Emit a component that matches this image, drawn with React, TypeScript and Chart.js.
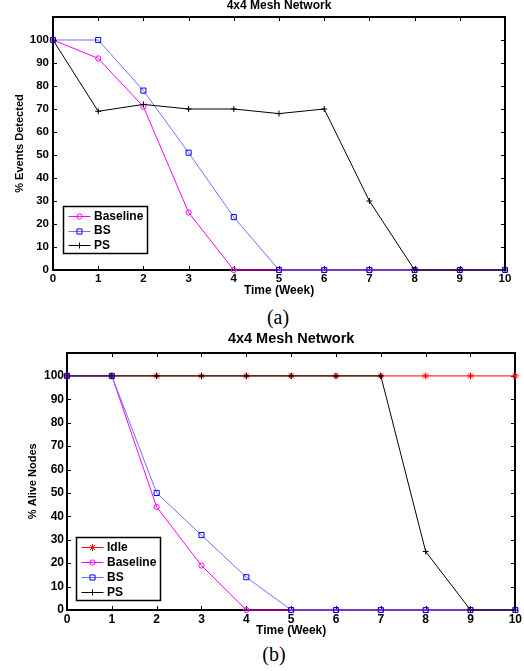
import React, { useEffect, useRef } from 'react';
import { Chart, registerables } from 'chart.js';

Chart.register(...registerables);

// ---- data ----
const weeks = ['0', '1', '2', '3', '4', '5', '6', '7', '8', '9', '10'];
const yTickValues = [0, 10, 20, 30, 40, 50, 60, 70, 80, 90, 100];

const eventsBaseline = [100, 92, 71, 25, 0, 0, 0, 0, 0, 0, 0];
const eventsBS = [100, 100, 78, 51, 23, 0, 0, 0, 0, 0, 0];
const eventsPS = [100, 69, 72, 70, 70, 68, 70, 30, 0, 0, 0];

const aliveIdle = [100, 100, 100, 100, 100, 100, 100, 100, 100, 100, 100];
const aliveBaseline = [100, 100, 44, 19, 0, 0, 0, 0, 0, 0, 0];
const aliveBS = [100, 100, 50, 32, 14, 0, 0, 0, 0, 0, 0];
const alivePS = [100, 100, 100, 100, 100, 100, 100, 100, 25, 0, 0];

const FONT = "'Liberation Sans', Arial, Helvetica, sans-serif";
const SERIF = "'Liberation Serif', 'DejaVu Serif', 'Times New Roman', serif";

type SeriesStyle = { line: string; point: string; pointStyle: string; radius: number };
const STYLE: Record<string, SeriesStyle> = {
  Idle: { line: '#ff0000', point: '#ff0000', pointStyle: 'star', radius: 3.5 },
  Baseline: { line: '#ff00ff', point: '#ff00ff', pointStyle: 'circle', radius: 2.6 },
  BS: { line: '#7070ff', point: '#0000ff', pointStyle: 'rect', radius: 3.6 },
  PS: { line: '#000000', point: '#000000', pointStyle: 'cross', radius: 3 },
};

function ds(label: string, data: number[], order: number) {
  const s = STYLE[label];
  return {
    label,
    data,
    borderColor: s.line,
    borderWidth: 1,
    pointStyle: s.pointStyle,
    pointRadius: s.radius,
    pointBorderColor: s.point,
    pointBackgroundColor: 'rgba(0,0,0,0)',
    pointBorderWidth: 1,
    fill: false,
    tension: 0,
    clip: false,
    order,
  };
}

type Spec = {
  title: string;
  titleSize: number;
  titlePadBottom: number;
  yTitle: string;
  yTitlePad: number;
  leftW: number;
  rightPad: number;
  xScaleH: number;
  xTitlePad: number;
  yTickPad: number;
  xTickPad: number;
  tickSize: number;
  legendDX: number;
  legendDY: number;
  rowH: number;
  canvasH: number;
  axisW: number;
  datasets: any[];
};

function drawMarker(ctx: CanvasRenderingContext2D, style: string, x: number, y: number, r: number, color: string) {
  ctx.save();
  ctx.strokeStyle = color;
  ctx.lineWidth = 1;
  ctx.beginPath();
  if (style === 'circle') {
    ctx.arc(x, y, r, 0, Math.PI * 2);
  } else if (style === 'rect') {
    const s = r * Math.SQRT1_2;
    ctx.rect(x - s, y - s, 2 * s, 2 * s);
  } else if (style === 'cross') {
    ctx.moveTo(x - r, y);
    ctx.lineTo(x + r, y);
    ctx.moveTo(x, y - r);
    ctx.lineTo(x, y + r);
  } else if (style === 'star') {
    ctx.moveTo(x - r, y);
    ctx.lineTo(x + r, y);
    ctx.moveTo(x, y - r);
    ctx.lineTo(x, y + r);
    const d = r * Math.SQRT1_2;
    ctx.moveTo(x - d, y - d);
    ctx.lineTo(x + d, y + d);
    ctx.moveTo(x - d, y + d);
    ctx.lineTo(x + d, y - d);
  }
  ctx.stroke();
  ctx.restore();
}

function matlabPlugin(spec: Spec) {
  return {
    id: 'matlabAxes',
    beforeDatasetsDraw(chart: any) {
      const { ctx, chartArea } = chart;
      const { left, right, top, bottom } = chartArea;
      const xs = chart.scales.x;
      const ys = chart.scales.y;
      ctx.save();
      ctx.strokeStyle = '#000';
      ctx.lineWidth = spec.axisW;
      const L = Math.round(left);
      const R = Math.round(right);
      const T = Math.round(top);
      const B = Math.round(bottom);
      ctx.strokeRect(L, T, R - L, B - T);
      const tl = 4;
      ctx.beginPath();
      ctx.lineWidth = 1;
      weeks.forEach((_, i) => {
        const px = Math.round(xs.getPixelForValue(i)) + 0.5;
        ctx.moveTo(px, B);
        ctx.lineTo(px, B - tl);
        ctx.moveTo(px, T);
        ctx.lineTo(px, T + tl);
      });
      yTickValues.forEach((v) => {
        const py = Math.round(ys.getPixelForValue(v)) + 0.5;
        ctx.moveTo(L, py);
        ctx.lineTo(L + tl, py);
        ctx.moveTo(R, py);
        ctx.lineTo(R - tl, py);
      });
      ctx.stroke();
      ctx.restore();
    },
    afterDatasetsDraw(chart: any) {
      const { ctx, chartArea } = chart;
      const items = chart.data.datasets;
      ctx.save();
      ctx.font = `bold 12px ${FONT}`;
      let maxW = 0;
      items.forEach((d: any) => {
        maxW = Math.max(maxW, ctx.measureText(d.label).width);
      });
      const w = Math.round(31 + maxW + 4);
      const h = Math.round(items.length * spec.rowH + 3);
      const bx = Math.round(chartArea.left + spec.legendDX) + 0.5;
      const by = Math.round(chartArea.bottom - spec.legendDY - h) + 0.5;
      ctx.fillStyle = '#fff';
      ctx.fillRect(bx, by, w, h);
      ctx.strokeStyle = '#000';
      ctx.lineWidth = 1.5;
      ctx.strokeRect(bx, by, w, h);
      items.forEach((d: any, i: number) => {
        const cy = by + 9.5 + i * spec.rowH;
        ctx.beginPath();
        ctx.strokeStyle = d.borderColor;
        ctx.lineWidth = 1;
        ctx.moveTo(bx + 5, Math.round(cy) + 0.5);
        ctx.lineTo(bx + 27, Math.round(cy) + 0.5);
        ctx.stroke();
        drawMarker(ctx, d.pointStyle, bx + 16, Math.round(cy) + 0.5, d.pointRadius, d.pointBorderColor);
        ctx.fillStyle = '#000';
        ctx.textBaseline = 'middle';
        ctx.textAlign = 'left';
        ctx.fillText(d.label, bx + 30.5, cy + 0.5);
      });
      ctx.restore();
    },
  };
}

function MatlabChart({ spec, top }: { spec: Spec; top: number }) {
  const ref = useRef<HTMLCanvasElement>(null);
  useEffect(() => {
    if (!ref.current) return;
    const tickFont = { family: FONT, size: spec.tickSize, weight: 'bold' as const };
    const chart = new Chart(ref.current, {
      type: 'line',
      data: { labels: weeks, datasets: spec.datasets },
      plugins: [matlabPlugin(spec) as any],
      options: {
        animation: false,
        responsive: false,
        events: [],
        layout: { padding: { left: 0, right: spec.rightPad, top: 0, bottom: 0 } },
        plugins: {
          legend: { display: false },
          tooltip: { enabled: false },
          title: {
            display: true,
            fullSize: false,
            text: spec.title,
            color: '#000',
            font: { family: FONT, size: spec.titleSize, weight: 'bold', lineHeight: 1 },
            padding: { top: 0, bottom: spec.titlePadBottom },
          },
        },
        scales: {
          x: {
            type: 'category',
            offset: false,
            grid: { display: false, drawTicks: false },
            border: { display: false },
            ticks: { color: '#000', font: tickFont, padding: spec.xTickPad, maxRotation: 0, autoSkip: false },
            title: {
              display: true,
              text: 'Time (Week)',
              color: '#000',
              font: { family: FONT, size: 12, weight: 'bold', lineHeight: 1 },
              padding: { top: 0, bottom: spec.xTitlePad },
            },
            afterFit: (s: any) => {
              s.height = spec.xScaleH;
            },
          },
          y: {
            min: 0,
            max: 110,
            afterBuildTicks: (s: any) => {
              s.ticks = yTickValues.map((v) => ({ value: v }));
            },
            grid: { display: false, drawTicks: false },
            border: { display: false },
            ticks: { color: '#000', font: tickFont, padding: spec.yTickPad },
            title: {
              display: true,
              text: spec.yTitle,
              color: '#000',
              font: { family: FONT, size: 11, weight: 'bold', lineHeight: 1 },
              padding: { top: spec.yTitlePad, bottom: 0 },
            },
            afterFit: (s: any) => {
              s.width = spec.leftW;
            },
          },
        },
      } as any,
    });
    return () => chart.destroy();
  }, []);
  return (
    <canvas
      ref={ref}
      width={524}
      height={spec.canvasH}
      style={{ position: 'absolute', left: 0, top, width: 524, height: spec.canvasH }}
    />
  );
}

const specA: Spec = {
  title: '4x4 Mesh Network',
  titleSize: 12,
  titlePadBottom: 5,
  yTitle: '% Events Detected',
  yTitlePad: 14,
  leftW: 53,
  rightPad: 19,
  xScaleH: 30,
  xTitlePad: 3,
  yTickPad: 4,
  xTickPad: 2,
  tickSize: 11.5,
  legendDX: 10,
  legendDY: 17,
  rowH: 14.5,
  canvasH: 300,
  axisW: 2,
  datasets: [ds('Baseline', eventsBaseline, 3), ds('BS', eventsBS, 2), ds('PS', eventsPS, 1)],
};

const specB: Spec = {
  title: '4x4 Mesh Network',
  titleSize: 14.5,
  titlePadBottom: 6,
  yTitle: '% Alive Nodes',
  yTitlePad: 27,
  leftW: 67,
  rightPad: 7,
  xScaleH: 32,
  xTitlePad: 5,
  yTickPad: 3,
  xTickPad: 2,
  tickSize: 12,
  legendDX: 9,
  legendDY: 10,
  rowH: 15,
  canvasH: 310,
  axisW: 2,
  datasets: [
    ds('Idle', aliveIdle, 4),
    ds('Baseline', aliveBaseline, 3),
    ds('BS', aliveBS, 2),
    ds('PS', alivePS, 1),
  ],
};

export default function App() {
  return (
    <div style={{ position: 'absolute', left: 0, top: 0, width: 524, height: 671, background: '#fff', overflow: 'hidden' }}>
      <MatlabChart spec={specA} top={0} />
      <div
        style={{
          position: 'absolute',
          left: 228,
          top: 305,
          width: 100,
          textAlign: 'center',
          fontFamily: SERIF,
          fontSize: 20,
          lineHeight: '24px',
          color: '#000',
        }}
      >
        (a)
      </div>
      <MatlabChart spec={specB} top={332} />
      <div
        style={{
          position: 'absolute',
          left: 224,
          top: 642,
          width: 100,
          textAlign: 'center',
          fontFamily: SERIF,
          fontSize: 20,
          lineHeight: '24px',
          color: '#000',
        }}
      >
        (b)
      </div>
    </div>
  );
}
